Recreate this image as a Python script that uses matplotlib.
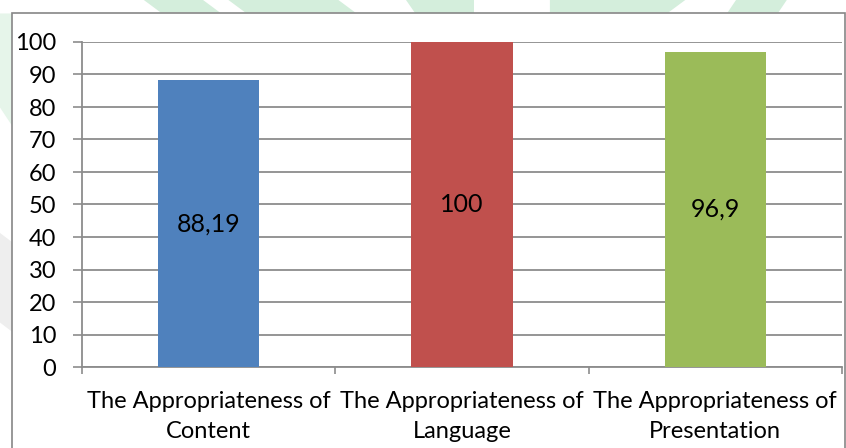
import matplotlib.pyplot as plt
from matplotlib.patches import Polygon, Rectangle

# Aspect scores (percent)
categories = ["The Appropriateness of\nContent",
              "The Appropriateness of\nLanguage",
              "The Appropriateness of\nPresentation"]
scores = [88.19, 100, 96.9]
score_labels = ["88,19", "100", "96,9"]
bar_colors = ["#4f81bd", "#c0504d", "#9bbb59"]
y_ticks = [0, 10, 20, 30, 40, 50, 60, 70, 80, 90, 100]

plt.rcParams['font.family'] = ['Lato', 'DejaVu Sans']
FS = 17

fig = plt.figure(figsize=(8.46, 4.48), dpi=100)

# faint green background shapes above the chart box
wm = "#d4eedc"
for pts, c in [([(0.17, 1.0), (0.24, 1.0), (0.26, 0.972), (0.19, 0.972)], wm),
               ([(0.27, 1.0), (0.40, 1.0), (0.42, 0.972), (0.29, 0.972)], wm),
               ([(0.48, 1.0), (0.56, 1.0), (0.56, 0.972), (0.49, 0.972)], wm),
               ([(0.65, 1.0), (0.81, 1.0), (0.79, 0.972), (0.65, 0.972)], wm),
               ([(0.87, 1.0), (0.93, 1.0), (0.92, 0.972), (0.86, 0.972)], wm),
               ([(0.0, 0.97), (0.014, 0.97), (0.014, 0.72), (0.0, 0.76)], "#e6f5ea"),
               ([(0.0, 0.48), (0.014, 0.46), (0.014, 0.26), (0.0, 0.28)], "#eeeeee")]:
    fig.patches.append(Polygon(pts, closed=True, transform=fig.transFigure,
                               facecolor=c, edgecolor="none", zorder=0))

# chart box border
fig.patches.append(Rectangle((12 / 846, -0.05), (845 - 12) / 846, 1.05 - 13 / 448,
                             transform=fig.transFigure, facecolor="white",
                             edgecolor="#868686", linewidth=1.2, zorder=1))

ax = fig.add_axes([82 / 846, 1 - 367 / 448, (842 - 82) / 846, (367 - 42) / 448])
ax.set_zorder(2)
ax.patch.set_alpha(0)

x = range(len(categories))
bars = ax.bar(x, scores, width=0.4, color=bar_colors, zorder=3)
for b, lab in zip(bars, score_labels):
    ax.text(b.get_x() + b.get_width() / 2, b.get_height() / 2, lab,
            ha="center", va="center", fontsize=18, color="black", zorder=4)

ax.set_xlim(-0.5, 2.5)
ax.set_ylim(0, 100)
ax.set_yticks(y_ticks)
ax.yaxis.grid(True, color="#8c8c8c", linewidth=1.3, zorder=0)
ax.set_axisbelow(True)

# category boundaries carry the x tick marks
ax.set_xticks([-0.5, 0.5, 1.5, 2.5])
ax.set_xticklabels([])
ax.set_xticks(list(x), minor=True)
ax.set_xticklabels(categories, minor=True, fontsize=FS, linespacing=1.55)
ax.tick_params(axis="x", which="major", length=5, width=1.2, color="#8c8c8c")
ax.tick_params(axis="x", which="minor", length=0, pad=17)
ax.tick_params(axis="y", length=6.5, width=1.2, color="#8c8c8c", labelsize=FS, pad=12)

for side in ["top", "right"]:
    ax.spines[side].set_visible(False)
ax.spines["left"].set_color("#8c8c8c")
ax.spines["bottom"].set_color("#8c8c8c")
ax.spines["left"].set_linewidth(1.3)
ax.spines["bottom"].set_linewidth(1.3)

fig.savefig("out.png", dpi=100)
